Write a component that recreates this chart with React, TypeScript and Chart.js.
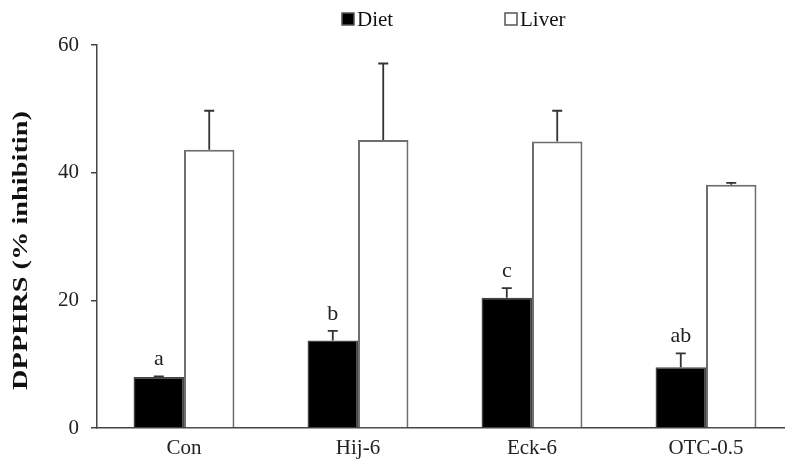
import React, { useEffect, useRef } from "react";
import { Chart, registerables } from "chart.js";

Chart.register(...registerables);

const categories = ["Con", "Hij-6", "Eck-6", "OTC-0.5"];
const dietValues = [8.0, 13.7, 20.4, 9.5];
const dietErrors = [0.1, 1.5, 1.5, 2.2];
const liverValues = [43.6, 45.1, 44.9, 38.1];
const liverErrors = [6.1, 12.0, 4.8, 0.3];
const dietLetters = ["a", "b", "c", "ab"];
const yTicks = [0, 20, 40, 60];
const yTitle = "DPPHRS (% inhibitin)";

const FONT = "'Liberation Serif', 'Times New Roman', serif";

const errorPlugin = {
  id: "errorsAndLabels",
  afterDatasetsDraw(chart: any) {
    const ctx = chart.ctx;
    const yScale = chart.scales.y;
    const errs = [dietErrors, liverErrors];
    chart.data.datasets.forEach((ds: any, di: number) => {
      const meta = chart.getDatasetMeta(di);
      meta.data.forEach((el: any, i: number) => {
        const v = ds.data[i];
        const e = errs[di][i];
        const yTop = yScale.getPixelForValue(v + e);
        ctx.save();
        ctx.strokeStyle = "#333";
        ctx.lineWidth = 1.8;
        ctx.beginPath();
        ctx.moveTo(el.x, el.y);
        ctx.lineTo(el.x, yTop);
        ctx.moveTo(el.x - 5, yTop);
        ctx.lineTo(el.x + 5, yTop);
        ctx.stroke();
        if (di === 0) {
          ctx.fillStyle = "#222";
          ctx.font = `22px ${FONT}`;
          ctx.textAlign = "center";
          ctx.textBaseline = "bottom";
          ctx.fillText(dietLetters[i], el.x, yTop - 6);
        }
        ctx.restore();
      });
    });
  },
  afterDraw(chart: any) {
    const ctx = chart.ctx;
    const area = chart.chartArea;
    // y-axis title
    ctx.save();
    ctx.translate(22, (area.top + area.bottom) / 2 + 14);
    ctx.rotate(-Math.PI / 2);
    ctx.scale(1.35, 1);
    ctx.font = `bold 21px ${FONT}`;
    ctx.fillStyle = "#111";
    ctx.textAlign = "center";
    ctx.textBaseline = "middle";
    ctx.fillText(yTitle, 0, 0);
    ctx.restore();
    // legend
    const items = [
      { x: 342, ds: chart.data.datasets[0] },
      { x: 505, ds: chart.data.datasets[1] },
    ];
    ctx.save();
    items.forEach((it) => {
      ctx.fillStyle = it.ds.backgroundColor;
      ctx.strokeStyle = "#555";
      ctx.lineWidth = 1.5;
      ctx.fillRect(it.x, 13, 12, 12);
      ctx.strokeRect(it.x, 13, 12, 12);
      ctx.fillStyle = "#111";
      ctx.font = `21px ${FONT}`;
      ctx.textAlign = "left";
      ctx.textBaseline = "middle";
      ctx.fillText(it.ds.label, it.x + 15, 20);
    });
    ctx.restore();
  },
};

export default function App() {
  const ref = useRef<HTMLCanvasElement | null>(null);
  useEffect(() => {
    if (!ref.current) return;
    const chart = new Chart(ref.current, {
      type: "bar",
      data: {
        labels: categories,
        datasets: [
          {
            label: "Diet",
            data: dietValues,
            backgroundColor: "#000000",
            borderColor: "#444444",
            borderWidth: 1.5,
            categoryPercentage: 0.58,
            barPercentage: 1.0,
          },
          {
            label: "Liver",
            data: liverValues,
            backgroundColor: "#ffffff",
            borderColor: "#6e6e6e",
            borderWidth: 2,
            categoryPercentage: 0.58,
            barPercentage: 1.0,
          },
        ],
      },
      options: {
        responsive: false,
        animation: false,
        layout: { padding: { top: 45, right: 7, left: 0, bottom: 0 } },
        plugins: { legend: { display: false }, tooltip: { enabled: false } },
        scales: {
          x: {
            offset: true,
            grid: { display: false, drawTicks: false },
            border: { color: "#444", width: 1.5 },
            ticks: {
              font: { family: FONT, size: 21 },
              color: "#222",
              padding: 8,
              maxRotation: 0,
            },
            afterFit: (s: any) => {
              s.height = 37;
            },
          },
          y: {
            min: 0,
            max: 60,
            afterBuildTicks: (s: any) => {
              s.ticks = yTicks.map((v) => ({ value: v }));
            },
            grid: {
              drawOnChartArea: false,
              drawTicks: true,
              tickLength: 6,
              color: "#444",
              lineWidth: 1.5,
            },
            border: { color: "#444", width: 1.5 },
            ticks: {
              font: { family: FONT, size: 21 },
              color: "#222",
              padding: 12,
            },
            afterFit: (s: any) => {
              s.width = 97;
            },
          },
        },
      },
      plugins: [errorPlugin],
    });
    return () => chart.destroy();
  }, []);
  return (
    <div
      style={{
        position: "fixed",
        left: 0,
        top: 0,
        width: 785,
        height: 465,
        overflow: "hidden",
        background: "#fff",
      }}
    >
      <canvas ref={ref} width={800} height={465} style={{ display: "block" }} />
    </div>
  );
}
